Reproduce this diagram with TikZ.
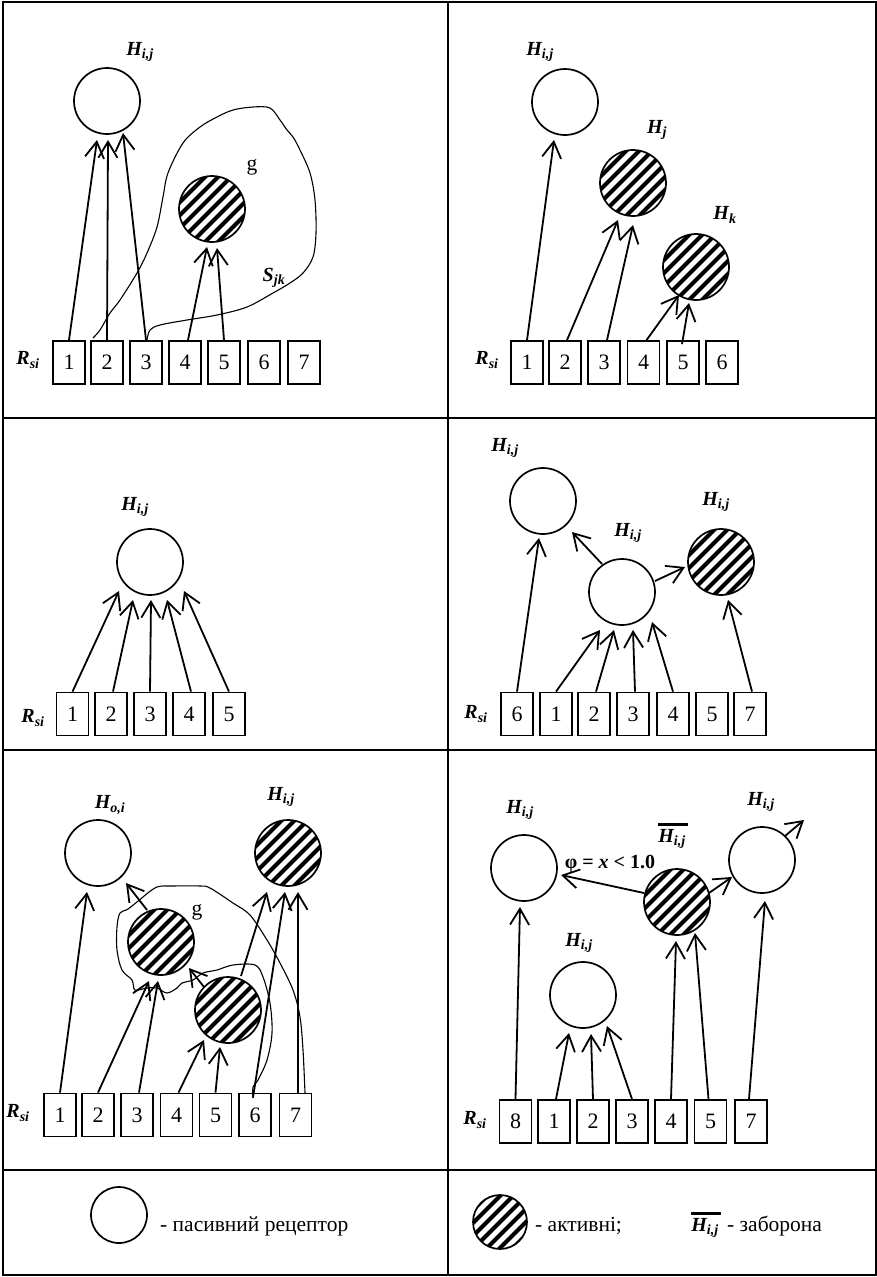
\documentclass[tikz,border=0pt]{standalone}
\usepackage{fontspec}
\setmainfont{Liberation Serif}
\usetikzlibrary{arrows.meta,calc}
\newcommand{\HL}[1]{{\bfseries\itshape H\textsubscript{#1}}}
\newcommand{\HB}{\rlap{\rule[17pt]{30pt}{2.6pt}}\HL{i,j}}
\newcommand{\RL}{{\bfseries\itshape R\textsubscript{si}}}
\begin{document}
\begin{tikzpicture}[x=1pt,y=-1pt,
  pas/.style={circle,draw,line width=1.7pt,minimum size=66pt,inner sep=0pt},
  act/.style={pas,path picture={\foreach \k in {-7,...,7}{\draw[line width=4pt] ($(path picture bounding box.center)+(\k*13-50,50)$) -- ++(100,-100);}}},
  rbox/.style={draw,line width=1.8pt,minimum width=32pt,minimum height=43pt,inner sep=0pt,font=\fontsize{22}{24}\selectfont},
  lab/.style={font=\fontsize{20}{22}\selectfont,inner sep=0pt},
  txt/.style={font=\fontsize{21.5}{24}\selectfont,inner sep=0pt},
  arr/.style={line width=1.8pt,-{Straight Barb[length=16pt,width=19pt]}},
  blob/.style={line width=1.1pt},
  frame/.style={line width=1.8pt}]
\useasboundingbox (0,0) rectangle (877,1277);
% frame
\draw[frame] (3,2) rectangle (876,1275);
\draw[frame] (448,2) -- (448,1275);
\draw[frame] (3,418) -- (876,418);
\draw[frame] (3,750) -- (876,750);
\draw[frame] (3,1170) -- (876,1170);

% ===== Panel 1 =====
\node[pas] (p1a) at (107,101) {};
\node[act] (p1g) at (212,209) {};
\node[lab] (p1la) at (140,52) {\HL{i,j}};
\node[txt] (p1lg) at (252,167) {g};
\node[lab] (p1ls) at (274,278) {{\bfseries\itshape S\textsubscript{jk}}};
\node[lab] (p1lr) at (28,360) {\RL};
\foreach \n/\x in {1/69,2/107,3/146,4/185,5/224,6/264,7/304}
  \node[rbox] (p1b\n) at (\x,362.5) {\n};
\draw[arr] (p1b1.north) -- ($(p1a)+(-10,39)$);
\draw[arr] (p1b2.north) -- ($(p1a)+(1,39)$);
\draw[arr] (p1b3.north) -- ($(p1a)+(16,32)$);
\draw[arr] ($(p1b4.north)+(3,0)$) -- ($(p1g)+(-5,38)$);
\draw[arr] (p1b5.north) -- ($(p1g)+(5,39)$);
\draw[blob] plot[smooth,tension=0.55] coordinates {(93,338) (100,330) (110,313) (120,300) (137,273) (147,253) (157,227) (163,197) (168,173) (183,143) (200,127) (217,117) (233,110) (253,107) (270,108) (280,120) (287,130) (293,137) (300,150) (310,173) (315,200) (316,233) (313,257) (303,273) (290,283) (273,293) (247,307) (217,315) (187,320) (160,325) (150,330) (147,340)};

% ===== Panel 2 =====
\node[pas] (p2a) at (565,102) {};
\node[act] (p2j) at (633,183) {};
\node[act] (p2k) at (696,267) {};
\node[lab] (p2la) at (540,52) {\HL{i,j}};
\node[lab] (p2lj) at (657,130) {\HL{j}};
\node[lab] (p2lk) at (725,215) {\HL{k}};
\node[lab] (p2lr) at (487,360) {\RL};
\foreach \n/\x in {1/527,2/565,3/604,4/643.5,5/683,6/722}
  \node[rbox] (p2b\n) at (\x,362.5) {\n};
\draw[arr] (p2b1.north) -- ($(p2a)+(-11,38)$);
\draw[arr] ($(p2b2.north)+(2,0)$) -- ($(p2j)+(-15,37)$);
\draw[arr] ($(p2b3.north)+(3,0)$) -- ($(p2j)+(0,42)$);
\draw[arr] ($(p2b4.north)+(3,0)$) -- ($(p2k)+(-17,28)$);
\draw[arr] ($(p2b5.north)+(-1,4)$) -- ($(p2k)+(-7,36)$);

% ===== Panel 3 =====
\node[pas] (p3a) at (150,562) {};
\node[lab] (p3la) at (135,507) {\HL{i,j}};
\node[lab] (p3lr) at (33,718) {\RL};
\foreach \n/\x in {1/72.5,2/111,3/150,4/189,5/229}
  \node[rbox] (p3b\n) at (\x,714) {\n};
\draw[arr] (p3b1.north) -- ($(p3a)+(-31,29)$);
\draw[arr] ($(p3b2.north)+(2,0)$) -- ($(p3a)+(-17,38)$);
\draw[arr] (p3b3.north) -- ($(p3a)+(1,38)$);
\draw[arr] ($(p3b4.north)+(2,0)$) -- ($(p3a)+(17,38)$);
\draw[arr] (p3b5.north) -- ($(p3a)+(34,29)$);

% ===== Panel 4 =====
\node[pas] (p4a) at (543,501) {};
\node[pas] (p4b) at (622,592) {};
\node[act] (p4c) at (721,562) {};
\node[lab] (p4la) at (505,448) {\HL{i,j}};
\node[lab] (p4lb) at (628,533) {\HL{i,j}};
\node[lab] (p4lc) at (716,502) {\HL{i,j}};
\node[lab] (p4lr) at (476,714) {\RL};
\foreach \n/\t/\x in {a/6/517,b/1/556,c/2/594,d/3/633,e/4/673,f/5/712,g/7/750}
  \node[rbox] (p4b\n) at (\x,714) {\t};
\draw[arr] (p4ba.north) -- ($(p4a)+(-4,37)$);
\draw[arr] (p4bb.north) -- ($(p4b)+(-22,38)$);
\draw[arr] ($(p4bc.north)+(2,0)$) -- ($(p4b)+(-8,38)$);
\draw[arr] ($(p4bd.north)+(2,0)$) -- ($(p4b)+(11,38)$);
\draw[arr] (p4be.north) -- ($(p4b)+(30,30)$);
\draw[arr] ($(p4bg.north)+(2,0)$) -- ($(p4c)+(7,38)$);
\draw[arr] ($(p4b)+(-20,-28)$) -- ($(p4a)+(29,31)$);
\draw[arr] ($(p4b)+(33,-11)$) -- ($(p4c)+(-36,5)$);

% ===== Panel 5 =====
\node[pas] (p5o) at (98,853) {};
\node[act] (p5t) at (288,853) {};
\node[act] (p5m) at (161,942) {};
\node[act] (p5l) at (228,1010) {};
\node[lab] (p5lo) at (110,805) {\HL{o,i}};
\node[lab] (p5lt) at (281,797) {\HL{i,j}};
\node[txt] (p5lg) at (197,912) {g};
\node[lab] (p5lr) at (18,1113) {\RL};
\foreach \n/\x in {1/60,2/98,3/137,4/176.5,5/215.5,6/255,7/295.5}
  \node[rbox] (p5b\n) at (\x,1115) {\n};
\draw[arr] (p5b1.north) -- ($(p5o)+(-11,39)$);
\draw[arr] (p5b2.north) -- ($(p5m)+(-12,39)$);
\draw[arr] ($(p5b3.north)+(2,0)$) -- ($(p5m)+(-3,39)$);
\draw[arr] ($(p5b4.north)+(2,0)$) -- ($(p5l)+(-24,30)$);
\draw[arr] (p5b5.north) -- ($(p5l)+(-8,37)$);
\draw[arr] ($(p5m)+(-14,-32)$) -- ($(p5o)+(28,30)$);
\draw[arr] ($(p5l)+(-24,-23)$) -- ($(p5m)+(28,26)$);
\draw[arr] ($(p5l)+(13,-34)$) -- ($(p5t)+(-21,39)$);
\draw[arr] ($(p5b6.north)+(-2,5)$) -- ($(p5t)+(-3,39)$);
\draw[arr] ($(p5b7.north)+(2.5,0)$) -- ($(p5t)+(10,39)$);
\draw[blob] plot[smooth,tension=0.55] coordinates {(143,897) (157,887) (173,886) (200,886) (210,888) (233,903) (250,915) (267,940) (280,963) (293,990) (300,1017) (303,1050) (305,1093)};
\draw[blob] plot[smooth,tension=0.55] coordinates {(143,897) (128,909) (120,913) (117,927) (117,950) (122,970) (132,980) (135,990) (147,988) (157,988) (167,993) (177,988) (182,983) (193,980) (203,973) (217,970) (233,965) (255,965) (263,977) (270,1003) (272,1033) (267,1060) (258,1080) (253,1087) (253,1098)};

% ===== Panel 6 =====
\node[pas] (p6l) at (524,868) {};
\node[act] (p6h) at (677,902) {};
\node[pas] (p6r) at (762,860) {};
\node[pas] (p6o) at (583,995) {};
\node[lab] (p6ll) at (520,810) {\HL{i,j}};
\node[lab] (p6lh) at (672,836) {\HB};
\node[lab] (p6lr) at (761,802) {\HL{i,j}};
\node[lab] (p6lo) at (579,943) {\HL{i,j}};
\node[lab] (p6phi) at (610,864) {\bfseries φ = \textit{x} < 1.0};
\node[lab] (p6lR) at (475,1120) {\RL};
\foreach \n/\t/\x in {a/8/515.5,b/1/554,c/2/593,d/3/632,e/4/671,f/5/710.5,g/7/751}
  \node[rbox] (p6b\n) at (\x,1121.5) {\t};
\coordinate (p6out) at (804,820);
\draw[arr] (p6ba.north) -- ($(p6l)+(-4,39)$);
\draw[arr] ($(p6bb.north)+(2,0)$) -- ($(p6o)+(-14,38)$);
\draw[arr] (p6bc.north) -- ($(p6o)+(8,39)$);
\draw[arr] (p6bd.north) -- ($(p6o)+(24,31)$);
\draw[arr] (p6be.north) -- ($(p6h)+(-1,39)$);
\draw[arr] ($(p6bf.north)+(-2,0)$) -- ($(p6h)+(18,31)$);
\draw[arr] ($(p6bg.north)+(-2,0)$) -- ($(p6r)+(3,41)$);
\draw[arr] ($(p6h)+(-33,-9)$) -- ($(p6l)+(37,7)$);
\draw[arr] ($(p6h)+(32,-9)$) -- ($(p6r)+(-30,17)$);
\draw[arr] ($(p6r)+(23,-24)$) -- (p6out);

% ===== Legend =====
\node[pas,minimum size=56pt] (lgp) at (119,1215) {};
\node[txt,anchor=west] (lgpt) at (160,1226) {- пасивний рецептор};
\node[act,minimum size=54pt] (lga) at (500,1222) {};
\node[txt,anchor=west] (lgat) at (535,1226) {- активні;};
\node[lab] (lgh) at (705,1225) {\HB};
\node[txt,anchor=west] (lght) at (727,1226) {- заборона};
\end{tikzpicture}
\end{document}
